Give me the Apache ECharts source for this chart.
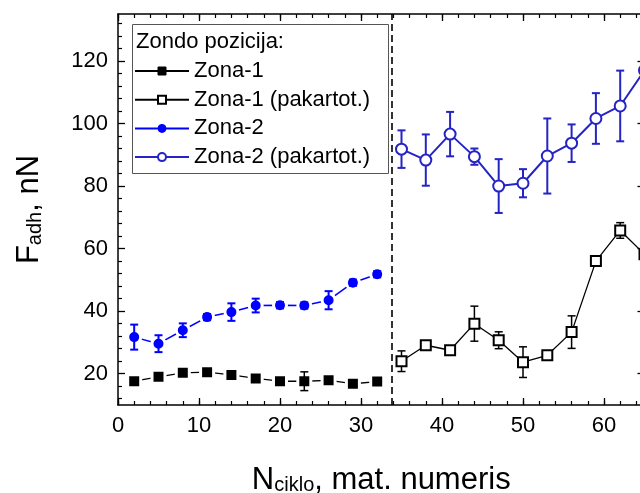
<!DOCTYPE html>
<html>
<head>
<meta charset="utf-8">
<script src="https://cdn.jsdelivr.net/npm/echarts@6.0.0/dist/echarts.min.js"></script>
<style>html,body{margin:0;padding:0;background:#fff;}#c{width:640px;height:493px;}</style>
</head>
<body>
<div id="c"></div>
<script>
// ---- data ----
const cycles1 = [2, 5, 8, 11, 14, 17, 20, 23, 26, 29, 32];
const cycles2 = [35, 38, 41, 44, 47, 50, 53, 56, 59, 62, 65];
const zona1    = [17.6, 19.0, 20.3, 20.5, 19.6, 18.5, 17.6, 17.6, 17.9, 16.8, 17.5];
const zona1Err = [1.0, 0.8, 0.8, 0.8, 0.8, 0.8, 1.0, 3.0, 0.8, 0.8, 1.0];
const zona2    = [31.7, 29.6, 33.9, 38.1, 39.7, 41.8, 41.9, 41.8, 43.5, 49.1, 51.8];
const zona2Err = [4.0, 2.7, 2.2, 1.0, 2.8, 2.2, 1.0, 1.0, 2.9, 1.0, 1.0];
const zona1R    = [24.0, 29.1, 27.5, 36.0, 30.7, 23.7, 25.9, 33.3, 56.0, 65.8, 58.2];
const zona1RErr = [3.3, 1.0, 1.0, 5.6, 2.7, 4.9, 1.0, 5.2, 1.4, 2.5, 2.0];
const zona2R    = [91.8, 88.3, 96.6, 89.4, 80.0, 80.9, 89.6, 93.7, 101.6, 105.6, 117.0];
const zona2RErr = [6.0, 8.2, 7.1, 2.6, 8.6, 4.5, 12.0, 6.0, 8.1, 11.3, 3.0];
const seriesNames = ['Zona-1', 'Zona-1 (pakartot.)', 'Zona-2', 'Zona-2 (pakartot.)'];
const legendTitle = 'Zondo pozicija:';
const yMajorTicks = [20, 40, 60, 80, 100, 120];
const yMinorTicks = [12,16,24,28,32,36,44,48,52,56,64,68,72,76,84,88,92,96,104,108,112,116,124,128,132];
const dividerX = 33.8;

// ---- helpers ----
const FONT = 'Liberation Sans, Arial, sans-serif';
const pts = (xs, ys) => xs.map((x, i) => [x, ys[i]]);
const errData = (xs, ys, es) => xs.map((x, i) => [x, ys[i] - es[i], ys[i] + es[i]]);
function errSeries(data, color, width, z) {
  return {
    type: 'custom', data: data, z: z, silent: true, clip: false,
    encode: { x: 0, y: [1, 2] },
    renderItem: function (params, api) {
      const x = api.value(0);
      const a = api.coord([x, api.value(1)]);
      const b = api.coord([x, api.value(2)]);
      const c = 4;
      const st = { stroke: color, lineWidth: width };
      return { type: 'group', children: [
        { type: 'line', shape: { x1: a[0], y1: a[1], x2: b[0], y2: b[1] }, style: st },
        { type: 'line', shape: { x1: a[0] - c, y1: a[1], x2: a[0] + c, y2: a[1] }, style: st },
        { type: 'line', shape: { x1: b[0] - c, y1: b[1], x2: b[0] + c, y2: b[1] }, style: st }
      ]};
    }
  };
}

const chart = echarts.init(document.getElementById('c'), null, { renderer: 'canvas' });
const axisLineStyle = { color: '#000', width: 1.5 };
const xMajor = (pos, labels) => ({
  type: 'value', position: pos, min: 0, max: 65, interval: 10,
  axisLine: { show: true, onZero: false, lineStyle: axisLineStyle },
  axisTick: { show: true, inside: true, length: 7, lineStyle: { color: '#000', width: 1.3 } },
  axisLabel: { show: labels, showMaxLabel: false, color: '#000', fontSize: 22, fontFamily: FONT, margin: 10 },
  splitLine: { show: false }
});
const xMinor = (pos) => ({
  type: 'value', position: pos, min: 0, max: 65, interval: 2,
  axisLine: { show: false },
  axisTick: { show: true, inside: true, length: 4, lineStyle: { color: '#000', width: 1.2 } },
  axisLabel: { show: false }, splitLine: { show: false }
});
const yMajor = (pos, labels) => ({
  type: 'value', position: pos, min: 10, max: 135,
  axisLine: { show: true, onZero: false, lineStyle: axisLineStyle },
  axisTick: { show: true, inside: true, length: 7, customValues: yMajorTicks, lineStyle: { color: '#000', width: 1.3 } },
  axisLabel: { show: labels, customValues: yMajorTicks, color: '#000', fontSize: 22, fontFamily: FONT, margin: 10 },
  splitLine: { show: false }
});
const yMinor = (pos) => ({
  type: 'value', position: pos, min: 10, max: 135,
  axisLine: { show: false },
  axisTick: { show: true, inside: true, length: 4, customValues: yMinorTicks, lineStyle: { color: '#000', width: 1.2 } },
  axisLabel: { show: false }, splitLine: { show: false }
});

const richName = {
  m: { fontSize: 31, fontFamily: FONT, color: '#000', lineHeight: 31 },
  s: { fontSize: 20, fontFamily: FONT, color: '#000', lineHeight: 20, verticalAlign: 'bottom', padding: [34, 0, 0, 0] }
};
const xAxisBottom = xMajor('bottom', true);
xAxisBottom.name = '{m|N}{s|ciklo}{m|, mat. numeris}';
xAxisBottom.nameLocation = 'middle';
xAxisBottom.nameGap = 41;
xAxisBottom.nameTextStyle = { rich: richName };
const yAxisLeft = yMajor('left', true);
yAxisLeft.name = '{m|F}{s|adh}{m|, nN}';
yAxisLeft.nameLocation = 'middle';
yAxisLeft.nameRotate = 90;
yAxisLeft.nameGap = 73;
yAxisLeft.nameTextStyle = { rich: richName };

const BLUE = '#0000ff';
const BLUE2 = '#2424c4';

chart.setOption({
  animation: false,
  backgroundColor: '#fff',
  grid: { left: 118, top: 14, right: -4.5, bottom: 88, containLabel: false, outerBoundsMode: 'none' },
  xAxis: [xAxisBottom, xMinor('bottom'), xMajor('top', false), xMinor('top')],
  yAxis: [yAxisLeft, yMinor('left'), yMajor('right', false)],
  graphic: [
    { type: 'rect', left: 132, top: 24, z: 3, shape: { width: 256, height: 149 },
      style: { fill: '#fff', stroke: '#555', lineWidth: 1 } },
    { type: 'text', left: 136, top: 31, z: 5,
      style: { text: legendTitle, font: '22px ' + FONT, fill: '#000' } }
  ],
  legend: {
    orient: 'vertical', left: 134, top: 60, padding: 0, z: 6,
    itemWidth: 54, itemHeight: 10, itemGap: 6.7,
    selectedMode: false,
    textStyle: { fontSize: 22, fontFamily: FONT, color: '#000', lineHeight: 22 },
    data: [
      { name: seriesNames[0], itemStyle: { borderColor: '#000', borderWidth: 1 } },
      { name: seriesNames[1] },
      { name: seriesNames[2], itemStyle: { borderColor: BLUE, borderWidth: 1 } },
      { name: seriesNames[3] }
    ]
  },
  series: [
    errSeries(errData(cycles1, zona1, zona1Err), '#000', 1.5, 3),
    errSeries(errData(cycles1, zona2, zona2Err), BLUE, 2, 3),
    errSeries(errData(cycles2, zona1R, zona1RErr), '#000', 1.5, 1),
    errSeries(errData(cycles2, zona2R, zona2RErr), BLUE2, 2, 1),
    {
      name: seriesNames[0], type: 'line', data: pts(cycles1, zona1), clip: false, z: 2,
      symbol: 'rect', symbolSize: 13,
      lineStyle: { color: '#000', width: 1.3 },
      itemStyle: { color: '#000', borderColor: '#fff', borderWidth: 3 },
      emphasis: { disabled: true },
      markLine: { silent: true, symbol: 'none', label: { show: false },
        lineStyle: { color: '#000', type: [7, 4], width: 1.6 },
        data: [{ xAxis: dividerX }] }
    },
    {
      name: seriesNames[1], type: 'line', data: pts(cycles2, zona1R), clip: false, z: 2,
      symbol: 'emptyRect', symbolSize: 10,
      lineStyle: { color: '#000', width: 1.3 },
      itemStyle: { color: '#000', borderColor: '#000', borderWidth: 1.3 },
      emphasis: { disabled: true }
    },
    {
      name: seriesNames[2], type: 'line', data: pts(cycles1, zona2), clip: false, z: 2,
      symbol: 'circle', symbolSize: 13,
      lineStyle: { color: BLUE, width: 1.5 },
      itemStyle: { color: BLUE, borderColor: '#fff', borderWidth: 3 },
      emphasis: { disabled: true }
    },
    {
      name: seriesNames[3], type: 'line', data: pts(cycles2, zona2R), clip: false, z: 2,
      symbol: 'emptyCircle', symbolSize: 11,
      lineStyle: { color: BLUE2, width: 2 },
      itemStyle: { color: BLUE2, borderColor: BLUE2, borderWidth: 1.6 },
      emphasis: { disabled: true }
    }
  ]
});
</script>
</body>
</html>
